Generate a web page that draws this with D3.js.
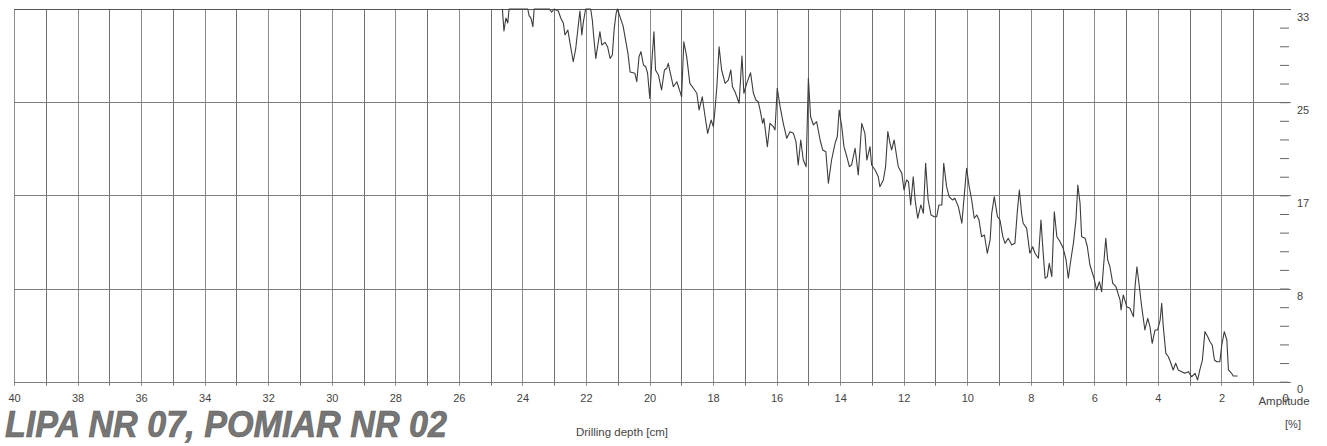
<!DOCTYPE html>
<html>
<head>
<meta charset="utf-8">
<script src="https://cdn.jsdelivr.net/npm/d3@7/dist/d3.min.js"></script>
<style>
  html, body { margin: 0; padding: 0; background: #fff; }
  svg { display: block; }
  text { font-family: "Liberation Sans", Arial, sans-serif; fill: #3a3a3a; }
</style>
</head>
<body>
<svg id="chart" width="1327" height="446"></svg>
<script>
// Resistance drilling profile: amplitude [%] against drilling depth [cm]
const depthCm = [
  24.63,24.58,24.52,24.46,24.42,23.83,23.79,23.73,23.67,23.63,23.15,23.08,23.00,22.87,22.79,
  22.71,22.66,22.57,22.50,22.40,22.32,22.24,22.19,22.13,22.08,22.01,21.85,21.80,21.76,21.69,
  21.61,21.56,21.50,21.40,21.32,21.24,21.17,21.11,21.05,21.01,
  20.83,20.68,20.61,20.46,20.40,20.33,20.27,20.19,20.12,20.06,19.99,19.93,19.86,19.81,19.72,
  19.62,19.53,19.46,19.41,19.32,19.25,19.14,19.04,18.99,18.92,18.83,18.73,18.62,18.51,18.44,
  18.34,18.25,18.17,18.06,17.99,17.94,17.88,17.81,17.73,17.62,17.52,17.44,17.39,17.31,17.18,
  17.09,17.03,
  16.94,16.82,16.73,16.65,16.58,16.52,16.44,16.40,16.29,16.21,16.10,16.05,15.98,15.89,15.79,
  15.68,15.58,15.47,15.39,15.32,15.24,15.16,15.07,15.00,14.93,14.84,14.74,14.63,14.55,14.45,
  14.37,14.27,14.16,14.09,14.03,13.95,13.88,13.79,13.71,13.64,13.53,13.43,13.32,13.22,13.16,
  13.06,
  13.01,12.90,12.80,12.75,12.64,12.57,12.50,12.43,12.38,12.30,12.22,12.17,12.06,11.99,11.91,
  11.85,11.78,11.70,11.64,11.56,11.46,11.38,11.31,11.23,11.14,11.04,10.96,10.89,10.80,10.74,
  10.65,10.57,10.47,10.39,10.28,10.17,10.07,10.02,9.94,9.86,9.78,9.70,9.63,9.55,9.46,
  9.37,9.28,9.23,9.15,
  9.05,8.97,8.88,8.81,8.71,8.60,8.50,8.42,8.36,8.29,8.24,8.13,8.03,7.94,7.87,
  7.76,7.68,7.61,7.55,7.48,7.42,7.34,7.26,7.18,7.08,6.98,6.89,6.82,6.74,6.66,
  6.58,6.52,6.45,6.40,6.29,6.22,6.14,6.01,5.93,5.84,5.77,5.72,5.64,5.58,5.51,
  5.42,5.32,5.19,
  5.16,5.09,4.98,4.88,4.77,4.72,4.66,4.59,4.51,4.41,4.32,4.25,4.18,4.09,4.01,
  3.93,3.88,3.83,3.75,3.67,3.59,3.52,3.44,3.36,3.25,3.15,3.04,2.94,2.83,2.75,
  2.68,2.60,2.52,2.43,2.36,2.29,2.22,2.15,2.05,1.99,1.91,1.83,1.78,1.68,1.63,
  1.49
];
const amplitudePct = [
  33.0,31.05,32.20,31.76,33.0,33.0,32.41,32.20,31.43,33.0,33.0,32.71,33.0,32.82,32.18,
  31.73,30.70,31.14,29.96,28.33,29.52,31.58,32.82,30.70,31.88,33.0,33.0,32.03,30.70,28.63,
  30.10,30.99,29.81,30.05,29.66,28.63,28.93,31.29,32.62,33.0,
  31.49,29.10,27.42,27.31,26.56,28.78,29.22,28.04,27.89,27.31,25.09,28.19,30.99,27.60,27.16,
  25.83,27.60,27.75,28.19,27.01,26.12,26.56,25.68,25.23,30.10,28.78,26.42,25.98,25.54,24.06,
  25.23,23.46,21.99,23.17,22.58,24.06,26.12,29.66,27.60,26.42,26.71,27.60,26.12,25.68,24.65,
  28.84,25.54,
  26.42,27.36,25.54,24.94,24.79,24.06,22.88,23.32,20.81,22.88,22.58,22.29,25.98,24.35,22.88,
  21.55,22.14,21.99,21.25,19.19,21.40,19.63,19.04,26.86,23.46,22.73,23.02,21.40,20.52,20.36,
  17.57,19.63,21.11,21.69,24.06,22.58,20.81,19.92,19.04,19.19,20.67,18.30,22.88,21.99,19.63,
  20.81,
  19.19,18.74,18.15,17.27,17.86,19.04,22.14,21.11,20.52,21.40,19.92,19.04,18.45,16.97,17.86,
  17.71,15.65,18.15,16.09,14.47,15.65,14.91,19.34,16.09,14.76,14.61,14.61,15.65,15.65,19.34,
  17.27,16.38,16.09,16.24,15.50,14.03,17.27,18.90,17.27,16.09,14.47,14.76,14.32,12.84,12.99,
  11.37,12.55,14.91,16.38,
  14.61,14.32,12.84,12.25,12.70,12.10,12.25,15.20,16.97,14.91,14.03,13.58,11.37,11.95,11.37,
  10.93,14.32,11.37,9.16,9.30,10.48,9.30,15.05,12.84,12.40,11.81,10.78,9.16,10.78,12.25,
  14.32,17.42,15.80,12.84,12.70,11.95,10.33,9.16,8.12,8.85,7.97,9.89,12.70,10.78,10.18,
  8.71,8.41,7.23,
  6.35,7.68,6.64,6.50,5.76,8.41,10.18,8.56,6.64,4.58,5.61,4.87,3.40,4.58,4.58,
  5.46,6.94,4.87,2.51,2.21,1.63,1.04,1.63,1.04,0.89,0.74,0.89,0.44,0.74,0.15,
  1.04,1.92,4.43,3.98,3.54,3.25,1.92,1.77,1.77,3.25,4.43,3.69,1.04,0.74,0.50,
  0.50
];

// Axis ticks and labels
const depthGrid = d3.range(0, 41, 1);            // one grid line per centimetre
const depthLabelTicks = d3.range(0, 41, 2);      // labelled every 2 cm
const ampMax = 33;
const ampMajorTicks = [0, 8.25, 16.5, 24.75, 33];
const ampMajorLabels = ["0", "8", "17", "25", "33"];
const ampMinorTicks = d3.range(0, 21).map(i => i * ampMax / 20);

const titleText = "LIPA NR 07, POMIAR NR 02";
const xTitle = "Drilling depth [cm]";
const yTitle = "Amplitude";
const yUnit = "[%]";

const svg = d3.select("#chart");
const plot = { left: 14, right: 1285, top: 9, bottom: 381.7 };

const x = d3.scaleLinear().domain([40, 0]).range([plot.left, plot.right]);
const y = d3.scaleLinear().domain([0, ampMax]).range([plot.bottom, plot.top]);

// vertical grid, extending a few pixels below the base line as ticks
svg.append("g")
  .selectAll("line")
  .data(depthGrid.filter(d => d > 0))
  .join("line")
  .attr("x1", d => Math.round(x(d)) + 0.5)
  .attr("x2", d => Math.round(x(d)) + 0.5)
  .attr("y1", y(ampMax))
  .attr("y2", y(0) + 4)
  .attr("stroke", d => (d % 2 === 1 ? "#707070" : "#8c8c8c"))
  .attr("stroke-width", 1);

// horizontal grid at the major amplitude ticks
svg.append("g")
  .selectAll("line")
  .data(ampMajorTicks)
  .join("line")
  .attr("x1", plot.left)
  .attr("x2", plot.right + 6)
  .attr("y1", d => Math.round(y(d)) + 0.5)
  .attr("y2", d => Math.round(y(d)) + 0.5)
  .attr("stroke", d => (d === ampMax ? "#555" : "#7d7d7d"))
  .attr("stroke-width", 1);

// bottom axis labels
const xAxis = d3.axisBottom(x)
  .tickValues(depthLabelTicks)
  .tickSize(0)
  .tickFormat(d3.format("d"));
const gx = svg.append("g")
  .attr("transform", `translate(0,${plot.bottom})`)
  .call(xAxis);
gx.select(".domain").remove();
gx.selectAll("text")
  .attr("y", 20)
  .attr("dy", 0)
  .style("font-size", "11px")
  .style("fill", "#444");

// right axis: minor ticks
const yMinor = d3.axisRight(y).tickValues(ampMinorTicks).tickSize(9).tickFormat("");
const gyMinor = svg.append("g")
  .attr("transform", `translate(${plot.right - 5},0)`)
  .call(yMinor);
gyMinor.select(".domain").remove();
gyMinor.selectAll("line").attr("stroke", "#666");

// right axis: major labels
const yMajor = d3.axisRight(y)
  .tickValues(ampMajorTicks)
  .tickSize(0)
  .tickFormat((d, i) => ampMajorLabels[i]);
const gy = svg.append("g")
  .attr("transform", `translate(${plot.right},0)`)
  .call(yMajor);
gy.select(".domain").remove();
gy.selectAll("text")
  .attr("x", 12)
  .attr("y", 11)
  .attr("dy", 0)
  .attr("text-anchor", "start")
  .style("font-size", "11px")
  .style("fill", "#444");

// amplitude trace
const line = d3.line()
  .x((d, i) => x(depthCm[i]))
  .y(d => y(Math.min(d, ampMax)));
svg.append("path")
  .datum(amplitudePct)
  .attr("d", line)
  .attr("fill", "none")
  .attr("stroke", "#3c3c3c")
  .attr("stroke-width", 1.1)
  .attr("stroke-linejoin", "round");

// axis titles
svg.append("text")
  .attr("x", 622).attr("y", 436)
  .attr("text-anchor", "middle")
  .style("font-size", "11.5px")
  .style("fill", "#444")
  .text(xTitle);

svg.append("text")
  .attr("x", 1284).attr("y", 405)
  .attr("text-anchor", "middle")
  .style("font-size", "11.5px")
  .style("fill", "#444")
  .text(yTitle);

svg.append("text")
  .attr("x", 1293).attr("y", 428)
  .attr("text-anchor", "middle")
  .style("font-size", "11px")
  .style("fill", "#444")
  .text(yUnit);

// sample title
svg.append("text")
  .attr("x", 5).attr("y", 437)
  .attr("textLength", 442)
  .attr("lengthAdjust", "spacingAndGlyphs")
  .style("font-size", "36px")
  .style("font-weight", "bold")
  .style("font-style", "italic")
  .style("fill", "#767676")
  .style("stroke", "#5a5a5a")
  .style("stroke-width", 0.6)
  .text(titleText);
</script>
</body>
</html>
